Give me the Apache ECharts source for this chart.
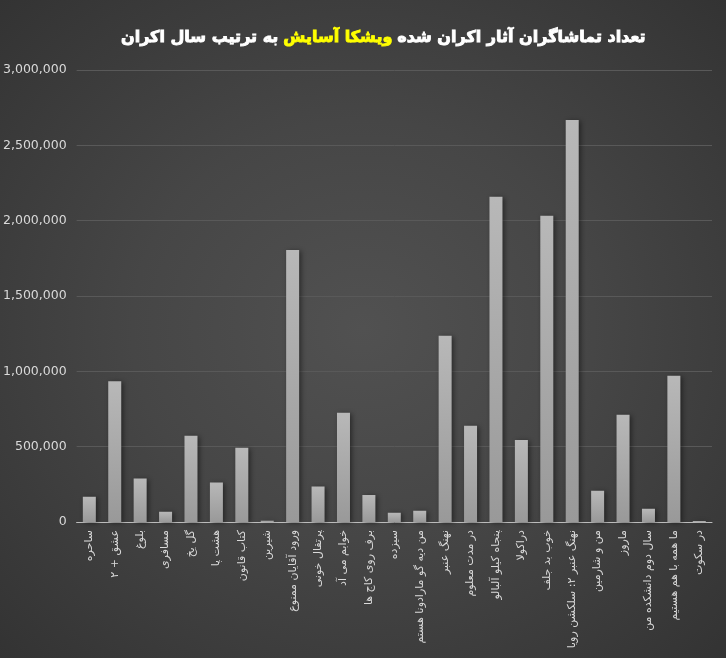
<!DOCTYPE html>
<html>
<head>
<meta charset="utf-8">
<script src="https://cdn.jsdelivr.net/npm/echarts@6/dist/echarts.min.js"></script>
<style>
html,body{margin:0;padding:0;}
#c{width:726px;height:658px;background:radial-gradient(ellipse at 50% 50%, #515151 0%, #464646 45%, #333333 100%);}
</style>
</head>
<body>
<div id="c"></div>
<script>
const categories = ["ساحره","عشق + ۲","بلوغ","مسافری","گل یخ","هشت پا","کتاب قانون","شیرین","ورود آقایان ممنوع","پرتقال خونی","خوابم می آد","برف روی کاج ها","سیزده","من دیه گو مارادونا هستم","نهنگ عنبر","در مدت معلوم","پنجاه کیلو آلبالو","دراکولا","خوب بد جلف","نهنگ عنبر ۲: سلکشن رویا","من و شارمین","ماروز","سال دوم دانشکده من","ما همه با هم هستیم","در سکوت"];
const viewers = [168000,935000,288000,68000,572000,262000,492000,8000,1805000,236000,725000,180000,62000,74000,1236000,638000,2158000,545000,2032000,2668000,208000,712000,88000,970000,6000];
const yTicks = {min:0, max:3000000, interval:500000};

const chart = echarts.init(document.getElementById('c'), null, {renderer:'canvas'});
chart.setOption({
  backgroundColor:'transparent',
  title:{
    text:'{w|به ترتیب سال اکران} {y|ویشکا آسایش} {w|تعداد تماشاگران آثار اکران شده}',
    left:116, top:24,
    textStyle:{
      rich:{
        w:{color:'#ffffff',fontSize:16,fontWeight:'bold',fontFamily:'DejaVu Sans',textBorderColor:'#ffffff',textBorderWidth:0.9},
        y:{color:'#ffff00',fontSize:16,fontWeight:'bold',fontFamily:'DejaVu Sans',textBorderColor:'#ffff00',textBorderWidth:0.9}
      }
    }
  },
  grid:{left:72,right:14,top:70,bottom:136,containLabel:false},
  xAxis:{
    type:'category',
    data:categories,
    axisLine:{lineStyle:{color:'#bdbdbd',width:1}},
    axisTick:{show:false},
    axisLabel:{interval:0,rotate:90,color:'#d9d9d9',fontSize:11,fontFamily:'DejaVu Sans',margin:8}
  },
  yAxis:{
    type:'value',
    min:yTicks.min,max:yTicks.max,interval:yTicks.interval,
    axisLine:{show:false},axisTick:{show:false},
    splitLine:{lineStyle:{color:'#595959',width:1}},
    axisLabel:{color:'#d9d9d9',fontSize:12.5,fontFamily:'DejaVu Sans',margin:10,
      formatter:v=>v.toLocaleString('en-US')}
  },
  series:[{
    type:'bar',
    data:viewers,
    barWidth:13,
    itemStyle:{
      color:new echarts.graphic.LinearGradient(0,0,0,1,[{offset:0,color:'#b8b8b8'},{offset:1,color:'#999999'}]),
      shadowColor:'rgba(0,0,0,0.45)',shadowBlur:5,shadowOffsetX:2,shadowOffsetY:1
    }
  }]
});
</script>
</body>
</html>
